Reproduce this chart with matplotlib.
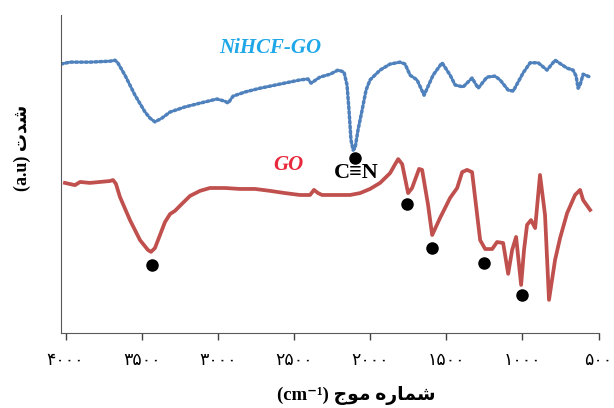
import matplotlib
matplotlib.use('Agg')
import matplotlib.pyplot as plt
from matplotlib.ticker import FixedLocator, FixedFormatter

# طیف FTIR دو نمونه (شدت به واحد دلخواه)
wn_nihcf = [4029, 3971, 3840, 3708, 3675, 3656, 3610, 3544, 3478, 3446, 3413, 3367,
            3314, 3216, 3117, 3006, 2953, 2933, 2900, 2822, 2723, 2592, 2461, 2408,
            2388, 2329, 2263, 2211, 2172, 2152, 2139, 2126, 2112, 2099, 2080, 2053,
            2027, 2001, 1935, 1869, 1804, 1771, 1738, 1692, 1646, 1587, 1528, 1475,
            1442, 1390, 1331, 1291, 1233, 1180, 1147, 1094, 1061, 996, 950, 897,
            839, 786, 707, 668, 648, 635, 622, 602, 556]
int_nihcf = [84.6, 85.2, 85.2, 85.5, 85.8, 84.9, 81.1, 74.8, 69.5, 67.6, 66.4, 67.6,
             69.5, 71.1, 72.3, 73.6, 72.9, 72.3, 74.5, 75.8, 77.0, 78.3, 79.6, 79.9,
             78.6, 80.5, 81.4, 82.7, 82.1, 78.0, 70.1, 60.7, 57.5, 58.2, 63.8, 70.1,
             76.4, 79.6, 82.7, 84.6, 85.2, 84.6, 81.1, 79.6, 74.8, 81.1, 85.0, 81.1,
             78.0, 77.4, 80.2, 77.0, 80.5, 80.8, 79.6, 76.4, 76.1, 81.8, 85.0, 85.0,
             82.7, 85.8, 83.3, 82.7, 80.8, 77.0, 78.0, 81.4, 80.5]

wn_go = [4004, 3938, 3905, 3840, 3774, 3708, 3688, 3669, 3643, 3577, 3511, 3459,
         3439, 3413, 3380, 3347, 3314, 3282, 3236, 3183, 3117, 3052, 2953, 2855,
         2756, 2658, 2559, 2461, 2395, 2369, 2342, 2316, 2231, 2132, 2066, 2001,
         1935, 1869, 1836, 1816, 1790, 1751, 1725, 1679, 1659, 1620, 1593, 1541,
         1475, 1429, 1396, 1364, 1331, 1278, 1245, 1199, 1167, 1127, 1094, 1068,
         1042, 1009, 990, 970, 944, 917, 885, 852, 826, 786, 753, 707, 655, 622,
         602, 556]
int_go = [47.2, 46.5, 47.5, 47.2, 47.5, 47.8, 48.1, 46.9, 42.8, 35.5, 29.2, 26.1,
          25.5, 26.7, 30.8, 34.9, 37.4, 38.4, 40.6, 43.1, 44.7, 45.6, 45.6, 45.3,
          45.3, 44.7, 44.0, 43.4, 43.4, 45.0, 44.0, 43.4, 43.4, 43.4, 44.0, 45.3,
          47.2, 50.3, 53.1, 54.7, 53.1, 44.0, 45.6, 51.6, 51.3, 40.3, 30.8, 36.2,
          42.5, 45.6, 50.6, 51.3, 50.6, 29.2, 26.4, 26.4, 28.6, 28.3, 18.6, 26.1,
          30.2, 15.1, 26.1, 34.0, 35.5, 33.0, 49.7, 37.1, 10.4, 23.0, 29.9, 37.7,
          43.4, 45.0, 41.8, 38.7]

# نقاط مشخص شده روی پیک ها
peak_wn = [3432, 2099, 1758, 1594, 1252, 1003]
peak_int = [21.4, 55.0, 40.6, 26.7, 22.0, 11.9]

tick_vals = [4000, 3500, 3000, 2500, 2000, 1500, 1000, 500]
tick_labels = ['۴۰۰۰', '۳۵۰۰', '۳۰۰۰', '۲۵۰۰', '۲۰۰۰', '۱۵۰۰', '۱۰۰۰', '۵۰۰']

# متن فارسی به ترتیب نمایشی (matplotlib شکل دهی عربی ندارد)
xlabel_txt = '(cm⁻¹) ' + '\uFE9D\uFEEE\uFEE3 \uFEE9\uFEAD\uFE8E\uFEE4\uFEB7'
ylabel_txt = '(a.u) ' + '\uFE95\uFEAA\uFEB7'

fig = plt.figure(figsize=(6.14, 4.08), dpi=100)
ax = fig.add_axes([0.0993, 0.184, 0.8757, 0.779])

ax.plot(wn_nihcf, int_nihcf, color='#4F81BD', linewidth=2.5,
        linestyle=(0, (0.6, 0.8)), dash_capstyle='round')
ax.plot(wn_go, int_go, color='#C0504D', linewidth=2.7, solid_joinstyle='round')
ax.plot(peak_wn, peak_int, 'o', color='black', markersize=8, linestyle='none')

ax.set_xlim(4030, 500)
ax.set_ylim(0, 100)

ax.xaxis.set_major_locator(FixedLocator(tick_vals))
ax.xaxis.set_major_formatter(FixedFormatter(tick_labels))
ax.tick_params(axis='x', direction='out', length=5, width=1, pad=8,
               labelsize=12.5, colors='#404040')
ax.set_yticks([])
for lbl in ax.get_xticklabels():
    lbl.set_color('black')

for side in ['top', 'right']:
    ax.spines[side].set_visible(False)
ax.spines['left'].set_color('#595959')
ax.spines['bottom'].set_color('#595959')

ax.text(2657, 89.5, 'NiHCF-GO', color='#1FA7E8', fontsize=15, fontweight='bold',
        fontstyle='italic', family=['Liberation Serif'], ha='center', va='center')
ax.text(2539, 52.8, 'GO', color='#E8283C', fontsize=15, fontweight='bold',
        fontstyle='italic', family=['Liberation Serif'], ha='center', va='center')
ax.text(2093, 50.3, 'C≡N', color='black', fontsize=16, fontweight='bold',
        family=['Liberation Serif', 'DejaVu Serif'], ha='center', va='center')

fig.text(0.58, 0.03, xlabel_txt, fontsize=13.5, fontweight='bold',
         family=['Liberation Serif', 'DejaVu Sans'], ha='center', va='center')
fig.text(0.037, 0.637, ylabel_txt, fontsize=13, fontweight='bold', rotation=90,
         family=['Liberation Serif', 'DejaVu Sans'], ha='center', va='center')

fig.savefig('out.png', dpi=100)
